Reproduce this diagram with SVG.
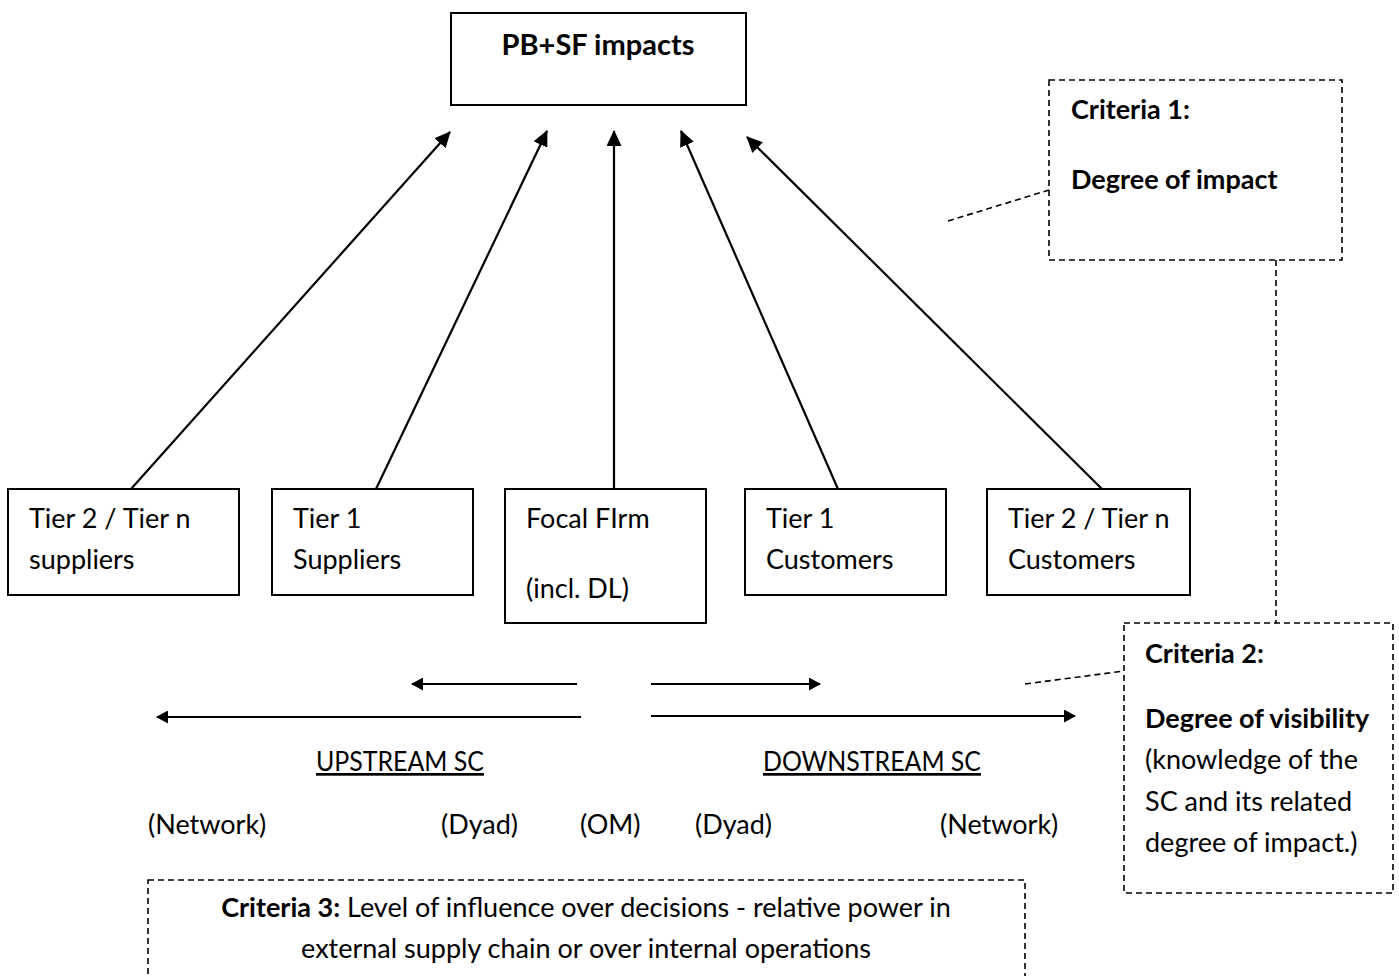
<svg xmlns="http://www.w3.org/2000/svg" width="1399" height="976" viewBox="0 0 1399 976">
  <defs>
    <marker id="head" viewBox="0 0 16 15" refX="15" refY="7.5" markerWidth="16" markerHeight="15" markerUnits="userSpaceOnUse" orient="auto">
      <path d="M0,0 L16,7.5 L0,15 Z" fill="#000"/>
    </marker>
    <marker id="head-s" viewBox="0 0 12 13" refX="11" refY="6.5" markerWidth="12" markerHeight="13" markerUnits="userSpaceOnUse" orient="auto">
      <path d="M0,0 L12,6.5 L0,13 Z" fill="#000"/>
    </marker>
    <style>
      text { font-family: Lato, "Open Sans", "Liberation Sans", sans-serif; font-size: 27px; fill: #000; }
      .b { font-weight: bold; }
      .title { font-size: 29px; font-weight: bold; }
      .box { fill: #fff; stroke: #000; stroke-width: 2; }
      .dbox { fill: none; stroke: #000; stroke-width: 1.6; stroke-dasharray: 6 4; }
      .dline { fill: none; stroke: #000; stroke-width: 1.6; stroke-dasharray: 6 4; }
      .arr { fill: none; stroke: #000; stroke-width: 2.2; marker-end: url(#head); }
      .flow { fill: none; stroke: #000; stroke-width: 2.2; marker-end: url(#head-s); }
      .u { text-decoration: underline; }
    </style>
  </defs>
  <rect width="1399" height="976" fill="#fff"/>

  <!-- connectors -->
  <g id="connectors">
    <line class="arr" x1="131" y1="489" x2="450" y2="132"/>
    <line class="arr" x1="376" y1="489" x2="547" y2="131"/>
    <line class="arr" x1="614" y1="489" x2="614" y2="131"/>
    <line class="arr" x1="838" y1="489" x2="681" y2="131"/>
    <line class="arr" x1="1102" y1="489" x2="747" y2="137"/>
    <!-- flow direction arrows -->
    <line class="flow" x1="577" y1="684" x2="412" y2="684"/>
    <line class="flow" x1="651" y1="684" x2="820" y2="684"/>
    <line class="flow" x1="581" y1="717" x2="157" y2="717"/>
    <line class="flow" x1="651" y1="716" x2="1075" y2="716"/>
    <!-- dashed callouts -->
    <line class="dline" x1="948" y1="221" x2="1049" y2="190"/>
    <line class="dline" x1="1276" y1="260" x2="1276" y2="623"/>
    <line class="dline" x1="1025" y1="684" x2="1124" y2="671"/>
  </g>

  <g id="impacts">
    <rect class="box" x="451" y="13" width="295" height="92"/>
    <text class="title" x="598" y="55" text-anchor="middle">PB+SF impacts</text>
  </g>

  <g id="tier2-suppliers">
    <rect class="box" x="8" y="489" width="231" height="106"/>
    <text x="29" y="528">Tier 2 / Tier n</text>
    <text x="29" y="569">suppliers</text>
  </g>

  <g id="tier1-suppliers">
    <rect class="box" x="272" y="489" width="201" height="106"/>
    <text x="293" y="528">Tier 1</text>
    <text x="293" y="569">Suppliers</text>
  </g>

  <g id="focal-firm">
    <rect class="box" x="505" y="489" width="201" height="134"/>
    <text x="526" y="528">Focal FIrm</text>
    <text x="526" y="598">(incl. DL)</text>
  </g>

  <g id="tier1-customers">
    <rect class="box" x="745" y="489" width="201" height="106"/>
    <text x="766" y="528">Tier 1</text>
    <text x="766" y="569">Customers</text>
  </g>

  <g id="tier2-customers">
    <rect class="box" x="987" y="489" width="203" height="106"/>
    <text x="1008" y="528">Tier 2 / Tier n</text>
    <text x="1008" y="569">Customers</text>
  </g>

  <g id="criteria-1">
    <rect class="dbox" x="1049" y="80" width="293" height="180"/>
    <text class="b" x="1071" y="119">Criteria 1:</text>
    <text class="b" x="1071" y="189">Degree of impact</text>
  </g>

  <g id="criteria-2">
    <rect class="dbox" x="1124" y="623" width="269" height="270"/>
    <text class="b" x="1145" y="663">Criteria 2:</text>
    <text class="b" x="1145" y="728">Degree of visibility</text>
    <text x="1145" y="769">(knowledge of the</text>
    <text x="1145" y="811">SC and its related</text>
    <text x="1145" y="852">degree of impact.)</text>
  </g>

  <g id="chain-labels">
    <text class="u" x="316" y="771" textLength="168" lengthAdjust="spacingAndGlyphs">UPSTREAM SC</text>
    <text class="u" x="763" y="771" textLength="218" lengthAdjust="spacingAndGlyphs">DOWNSTREAM SC</text>
    <text x="148" y="834">(Network)</text>
    <text x="441" y="834">(Dyad)</text>
    <text x="580" y="834">(OM)</text>
    <text x="695" y="834">(Dyad)</text>
    <text x="940" y="834">(Network)</text>
  </g>

  <g id="criteria-3">
    <rect class="dbox" x="148" y="880" width="877" height="120"/>
    <text x="586" y="917" text-anchor="middle"><tspan class="b">Criteria 3:</tspan> Level of influence over decisions - relative power in</text>
    <text x="586" y="958" text-anchor="middle">external supply chain or over internal operations</text>
  </g>
</svg>
